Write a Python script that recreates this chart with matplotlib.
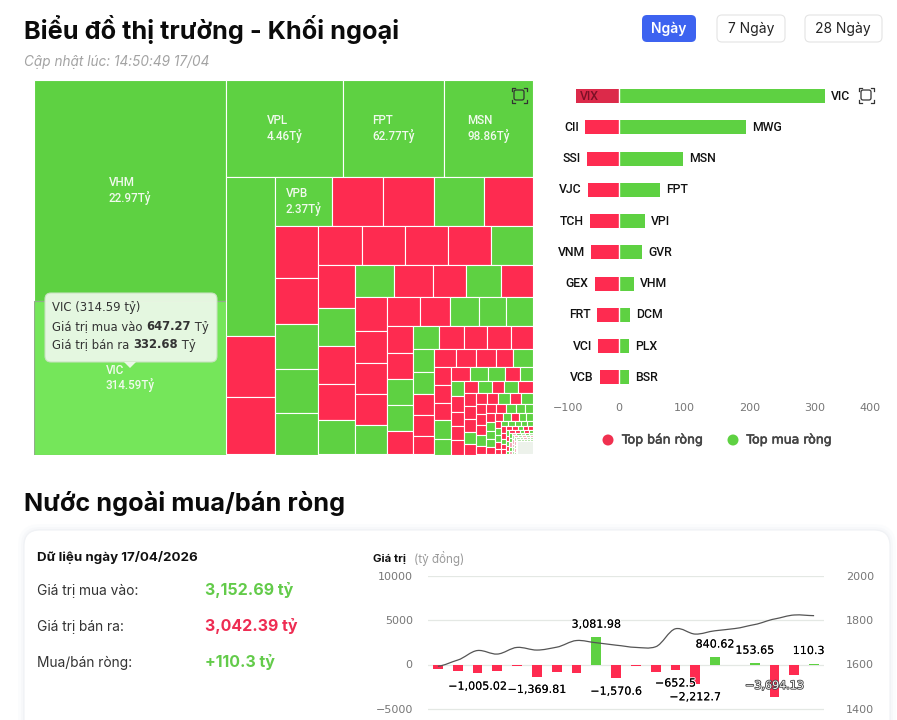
import matplotlib
matplotlib.use('Agg')
import matplotlib.pyplot as plt
from matplotlib.patches import FancyBboxPatch, Rectangle, Circle, Polygon, PathPatch
from matplotlib.path import Path
import matplotlib.patheffects as pe

W, H = 897, 720
GREEN = '#5ED142'
RED = '#FE2B50'
HILITE = '#75E65A'
PALE = '#EDF2EB'

# treemap: total traded value (ty) per stock, one list per strip of the layout
tm_strips = [
    [1412, 982],
    [380, 325, 288],
    [262, 101, 94],
    [92, 83, 83, 82, 80],
    [75, 66, 64.5, 63, 59],
    [57, 56, 56, 55, 55],
    [53, 47, 46, 44, 43],
    [41.6, 41, 36, 37, 34],
    [36, 34, 33.6, 32.5, 31.5],
    [32, 29, 28, 26, 26],
    [23.4, 22.5, 22.5, 22.5, 20],
    [20, 19, 18, 18, 17],
    [16, 15.4, 14.7, 14.7, 12.6],
    [12.9, 12, 12, 10.5, 11.7],
    [10.2, 10.2, 9.6, 10.2, 9],
    [8.9, 8.4, 7.9, 7, 6],
    [6.5, 6.9, 6.1, 6.1, 6.1],
    [5.6, 5.6, 4.8, 5.6, 6],
    [5.2, 5.2, 5.2, 4.8, 4],
    [4, 4, 4.4, 4, 4.4],
    [3.5, 3.8, 3.5, 3.5, 3.1],
    [3, 3, 2.7, 2.7, 2.5],
    [2.5, 2.4, 2.4, 2.3, 2],
    [2.1, 2, 1.9, 1.75, 1.75],
    [1.6, 1.5, 1.5, 1.4, 1.2],
    [1.4, 1.3, 1.3, 1.2, 1.1],
    [1, 1, .92, .83, .83],
    [.8, .75, .7, .65, .6],
    [.6, .55, .5, .45, .4],
    [.45, .42, .4, .37, .35],
    [.4, .37, .35, .32, .3],
    [.36, .34, .32, .3, .28],
    [.3, .29, .27, .26, .24],
    [.29, .27, .26, .25, .23],
    [.25, .23, .22, .21, .19],
    [.25, .23, .22, .21, .19],
    [.2, .19, .18, .18, .17],
    [.2, .19, .19, .18, .17],
    [7.1],
]
# g = net buy, r = net sell, v = hovered, l/m = washed out tiny cells, p = too small to see
tm_sides = ['gv', 'ggg', 'grr', 'grrgr', 'rrggg', 'rrrrg', 'rgrrg', 'grrgr', 'rrrrg',
            'rrggg', 'rrggr', 'grrrr', 'ggrrr', 'rrrrg', 'rrrgg', 'rggrg', 'grrrr',
            'rgrgr', 'rrrgr', 'rrgrg', 'rrrgr', 'rrggg', 'rgggr', 'rgrgg', 'rggrr',
            'ggggg', 'rrgrr', 'rrgrr', 'grgrg', 'rrgrg', 'ggmgm', 'mglgl', 'lmmll',
            'mlmlm', 'lmlml', 'llmll', 'mlllm', 'lllll', 'p']
tm_labels = {(0, 0): ('VHM', '22.97Tỷ'), (0, 1): ('VIC', '314.59Tỷ'),
             (1, 0): ('VPL', '4.46Tỷ'), (1, 1): ('FPT', '62.77Tỷ'),
             (1, 2): ('MSN', '98.86Tỷ'), (3, 0): ('VPB', '2.37Tỷ')}

# top net sell / top net buy
sell_names = ['VIX', 'CII', 'SSI', 'VJC', 'TCH', 'VNM', 'GEX', 'FRT', 'VCI', 'VCB']
sell_values = [-65, -51, -48, -46.7, -43.6, -42, -36, -33, -31, -28]
buy_names = ['VIC', 'MWG', 'MSN', 'FPT', 'VPI', 'GVR', 'VHM', 'DCM', 'PLX', 'BSR']
buy_values = [314.59, 195, 98.86, 62.77, 40, 36, 22.97, 18, 16.5, 16]
bar_ticks = [-100, 0, 100, 200, 300, 400]

# daily net foreign flow and the index line
flow_values = [-560, -680, -1005.02, -750, -150, -1369.81, -860, -1000, 3081.98, -1570.6,
               -120, -860, -652.5, -2212.7, 840.62, -100, 153.65, -3694.13, -1200, 110.3]
flow_labelled = [2, 5, 8, 9, 12, 13, 14, 16, 17, 19]
index_values = [1592, 1620, 1663, 1647, 1677, 1665, 1678, 1708, 1698, 1687,
                1677, 1680, 1761, 1737, 1752, 1762, 1780, 1805, 1823, 1820]
flow_ticks = [10000, 5000, 0, -5000]
index_ticks = [2000, 1800, 1600, 1400]

fig = plt.figure(figsize=(W / 100, H / 100), dpi=100, facecolor='white')


def px_axes(x0, y0, x1, y1, z=1):
    ax = fig.add_axes([x0 / W, 1 - y1 / H, (x1 - x0) / W, (y1 - y0) / H], zorder=z)
    ax.patch.set_visible(False)
    return ax


def box(ax, x0, y0, x1, y1, r, **kw):
    p = FancyBboxPatch((x0, y0), x1 - x0, y1 - y0,
                       boxstyle=f'round,pad=0,rounding_size={r}', **kw)
    ax.add_patch(p)
    return p


def focus_icon(ax, cx, cy):
    box(ax, cx - 5, cy - 5, cx + 5, cy + 5, 2, fc='none', ec='#333333', lw=0.9)
    s, k = 7.5, 3
    for dx, dy in [(-1, -1), (1, -1), (-1, 1), (1, 1)]:
        ax.plot([cx + dx * s, cx + dx * s, cx + dx * (s - k)],
                [cy + dy * (s - k), cy + dy * s, cy + dy * s], color='#333333', lw=0.9)


def inline(ax, x, y, parts, **kw):
    r = fig.canvas.get_renderer()
    for txt, weight in parts:
        t = ax.text(x, y, txt, fontweight=weight, va='center', **kw)
        x += t.get_window_extent(r).width


# page layer in pixel coordinates
bg = px_axes(0, 0, W, H, z=0)
bg.set_xlim(0, W)
bg.set_ylim(H, 0)
bg.axis('off')

bg.text(24, 29, 'Biểu đồ thị trường - Khối ngoại', family='Inter', fontweight=700,
        fontsize=18.2, color='#0b0b0b', va='center')
bg.text(24, 62, 'Cập nhật lúc: 14:50:49 17/04', family='Inter', fontsize=9.8, style='italic',
        color='#a3a3a3', va='center')
bg.text(24, 503, 'Nước ngoài mua/bán ròng', family='Inter', fontweight=700, fontsize=18.2,
        color='#0b0b0b', va='center')

box(bg, 642, 15, 696, 42, 5, fc='#3D63F0', ec='none')
bg.text(669, 29, 'Ngày', family='Inter', fontsize=10, fontweight=600, color='white', ha='center', va='center')
box(bg, 717, 15, 785, 42, 5, fc='white', ec='#e4e4e4', lw=0.8)
bg.text(751, 29, '7 Ngày', family='Inter', fontsize=10, color='#222222', ha='center', va='center')
box(bg, 805, 15, 882, 42, 5, fc='white', ec='#e4e4e4', lw=0.8)
bg.text(843, 29, '28 Ngày', family='Inter', fontsize=10, color='#222222', ha='center', va='center')

for grow, alpha in [(6, 0.25), (3, 0.45), (1, 0.7)]:
    box(bg, 24 - grow, 530 - grow, 890 + grow, 780, 16 + grow, fc='#f3f5f8', ec='none', alpha=alpha)
box(bg, 24, 530, 890, 780, 16, fc='white', ec='#f0f2f5', lw=0.8)

bg.text(37, 557, 'Dữ liệu ngày 17/04/2026', family='Inter', fontweight=700, fontsize=9.6,
        color='#111111', va='center')
bg.text(37, 591, 'Giá trị mua vào:', family='Inter', fontsize=9.9, color='#333333', va='center')
bg.text(37, 627, 'Giá trị bán ra:', family='Inter', fontsize=9.9, color='#333333', va='center')
bg.text(37, 663, 'Mua/bán ròng:', family='Inter', fontsize=9.9, color='#333333', va='center')
bg.text(205, 590, '3,152.69 tỷ', family='Inter', fontweight=700, fontsize=11.5, color='#63CB4A', va='center')
bg.text(205, 626, '3,042.39 tỷ', family='Inter', fontweight=700, fontsize=11.5, color='#EE2C52', va='center')
bg.text(205, 662, '+110.3 tỷ', family='Inter', fontweight=700, fontsize=11.5, color='#63CB4A', va='center')
inline(bg, 373, 559, [('Giá trị ', 700)], family='Inter', fontsize=8.2, color='#111111')
bg.text(414, 559, '(tỷ đồng)', family='Inter', fontsize=8.4, color='#9a9a9a', va='center')

# treemap, each strip is cut off the remaining rectangle, columns and rows in turn
tm = px_axes(34, 80, 533, 454.5)
tm_w, tm_h = 499, 374.5
tm.set_xlim(0, tm_w)
tm.set_ylim(tm_h, 0)
tm.axis('off')
scale = tm_w * tm_h / sum(sum(s) for s in tm_strips)
x, y, rw, rh = 0.0, 0.0, float(tm_w), float(tm_h)
side_color = {'g': GREEN, 'r': RED, 'v': HILITE, 'p': PALE, 'l': '#A9DE9A', 'm': '#F2A0B0'}
for i, strip in enumerate(tm_strips):
    area = sum(strip) * scale
    column = i % 2 == 0
    thick = area / (rh if column else rw)
    pos = y if column else x
    for j, val in enumerate(strip):
        size = val * scale / thick
        if column:
            cell = (x, pos, thick, size)
        else:
            cell = (pos, y, size, thick)
        pos += size
        side = tm_sides[i][j]
        tm.add_patch(Rectangle(cell[:2], cell[2], cell[3], fc=side_color[side],
                               ec='#8fae88' if side == 'v' else 'white', lw=0.8))
        if (i, j) in tm_labels:
            name, amount = tm_labels[(i, j)]
            tm.text(cell[0] + cell[2] / 2, cell[1] + cell[3] / 2, name + '\n' + amount,
                    family='Roboto', fontsize=8.4, fontweight=500, color='#f1faee',
                    ha='center', va='center', multialignment='left', linespacing=1.1)
    if column:
        x += thick
        rw -= thick
    else:
        y += thick
        rh -= thick

# top net sell / net buy bars
ax = px_axes(553, 80.5, 880.5, 393)
pos = list(range(len(sell_names)))
colors = ['#DC2A4A' if n == 'VIX' else RED for n in sell_names]
ax.barh(pos, sell_values, height=0.45, color=colors)
ax.barh(pos, buy_values, height=0.45, color=GREEN)
ax.axvline(0, color='white', lw=1, zorder=3)
ax.set_xlim(-100, 400)
ax.set_ylim(9.5, -0.5)
ax.set_yticks([])
ax.set_xticks(bar_ticks)
ax.tick_params(axis='x', length=0, pad=7, labelsize=8, labelcolor='#777777')
labels = ax.get_xticklabels()
labels[0].set_ha('left')
labels[-1].set_ha('right')
for s in ax.spines.values():
    s.set_visible(False)
for i in pos:
    ax.annotate(buy_names[i], (buy_values[i], i), xytext=(4.5, 0), textcoords='offset points',
                family='Roboto', fontsize=8.8, fontweight=500, color='#111111', va='center',
                annotation_clip=False)
    if sell_names[i] == 'VIX':
        ax.annotate('VIX', (-30, i), family='Roboto', fontsize=8.8, fontweight=500, color='#7d1026',
                    ha='right', va='center')
    else:
        ax.annotate(sell_names[i], (sell_values[i], i), xytext=(-4.5, 0), textcoords='offset points',
                    family='Roboto', fontsize=8.8, fontweight=500, color='#111111', ha='right', va='center')

legend_fx = [pe.withStroke(linewidth=0.4, foreground='#444444')]
bg.add_patch(Circle((608, 440), 5.5, fc='#F0304F', ec='none'))
bg.text(622, 440, 'Top bán ròng', fontsize=9, color='#444444', va='center', path_effects=legend_fx)
bg.add_patch(Circle((733, 440), 5.5, fc=GREEN, ec='none'))
bg.text(746.5, 440, 'Top mua ròng', fontsize=9, color='#444444', va='center', path_effects=legend_fx)

# daily net flow, the axis runs on below the bottom edge of the picture
ax2 = px_axes(428, 575.7, 824, 720, z=2)
days = list(range(len(flow_values)))
ax2.set_xlim(-0.5, len(days) - 0.5)
ax2.set_ylim(-6250, 10000)
ax2.bar(days, flow_values, width=0.5, zorder=2,
        color=[GREEN if v > 0 else RED for v in flow_values])
ax2.set_yticks(flow_ticks)
ax2.set_xticks([])
ax2.grid(axis='y', color='#e4e8e4', lw=0.9, zorder=0)
ax2.tick_params(axis='y', length=0, pad=11, labelsize=8, labelcolor='#777777')
for s in ax2.spines.values():
    s.set_visible(False)
for i in flow_labelled:
    v = flow_values[i]
    txt = f'{v:,}'.replace('-', '\u2212')
    if v == -3694.13:
        ax2.annotate(txt, (i, -2400), family='DejaVu Sans', fontsize=8, color='#f2f2f2', ha='center', va='center',
                     path_effects=[pe.withStroke(linewidth=1.2, foreground='#444444')], zorder=5)
        continue
    dy = 9 if v > 0 else -9.5
    dx = -4 if i == len(days) - 1 else 0
    ax2.annotate(txt, (i, v), xytext=(dx, dy), textcoords='offset points', fontsize=8,
                 color='#000000', ha='center', va='center', zorder=5,
                 path_effects=[pe.withStroke(linewidth=0.3, foreground='#222222'),
                               pe.withStroke(linewidth=1.5, foreground='white'),
                               pe.Normal()])

ax3 = ax2.twinx()
ax3.set_zorder(3)
ax3.patch.set_visible(False)
ax3.set_ylim(1350, 2000)
ax3.set_yticks(index_ticks)
ax3.tick_params(axis='y', length=0, pad=16, labelsize=8, labelcolor='#777777')
for s in ax3.spines.values():
    s.set_visible(False)
verts = [(days[0], index_values[0])]
codes = [Path.MOVETO]
for i in range(len(days) - 1):
    left = index_values[max(i - 1, 0)]
    right = index_values[min(i + 2, len(days) - 1)]
    verts += [(i + 0.35, index_values[i] + (index_values[i + 1] - left) * 0.13),
              (i + 0.65, index_values[i + 1] - (right - index_values[i]) * 0.13),
              (i + 1, index_values[i + 1])]
    codes += [Path.CURVE4] * 3
ax3.add_patch(PathPatch(Path(verts, codes), fc='none', ec='#555555', lw=0.9))

# overlay: tooltip and the two focus icons
top = px_axes(0, 0, W, H, z=6)
top.set_xlim(0, W)
top.set_ylim(H, 0)
top.axis('off')
box(top, 45, 293, 217, 362, 6, fc='#EAF8E6', ec='#c8e2c0', lw=0.8, alpha=0.96)
top.add_patch(Polygon([(124, 362), (136, 362), (130, 368)], fc='#EAF8E6', ec='none'))
tip = dict(family='DejaVu Sans', fontsize=8.4, color='#333333')
inline(top, 52, 308, [('VIC (314.59 tỷ)', 400)], **tip)
inline(top, 52, 327, [('Giá trị mua vào ', 400), ('647.27', 700), (' Tỷ', 400)], **tip)
inline(top, 52, 345, [('Giá trị bán ra ', 400), ('332.68', 700), (' Tỷ', 400)], **tip)
focus_icon(top, 519, 95)
focus_icon(top, 866, 95)

fig.savefig('out.png', dpi=100)
